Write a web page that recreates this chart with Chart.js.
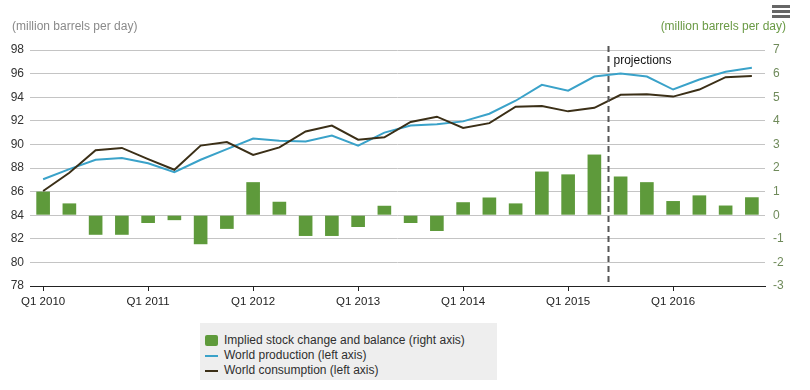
<!DOCTYPE html>
<html>
<head>
<meta charset="utf-8">
<script src="https://cdn.jsdelivr.net/npm/chart.js@4.4.0/dist/chart.umd.min.js"></script>
<style>
  body { margin: 0; background: #fff; font-family: "Liberation Sans", Arial, sans-serif; }
  #wrap { position: relative; width: 810px; height: 390px; }
  #oilChart { position: absolute; left: 0; top: 0; }
  .unit { position: absolute; font-size: 12px; top: 19px; }
  #unitLeft { left: 12px; color: #8a8a8a; }
  #unitRight { right: 24px; color: #6a9a45; }
  #menu { position: absolute; left: 772px; top: 5px; width: 18px; }
  #menu div { height: 3px; background: #666; margin-bottom: 2px; }
  #legend { position: absolute; left: 200px; top: 323px; width: 297px; height: 57px; background: #eeeeee; font-size: 12px; color: #2f2f2f; }
  .item { position: absolute; left: 5px; height: 14px; line-height: 14px; }
  .item span { display: inline-block; vertical-align: middle; margin-right: 6px; }
</style>
</head>
<body>
<div id="wrap">
  <canvas id="oilChart" width="810" height="390"></canvas>
  <div class="unit" id="unitLeft">(million barrels per day)</div>
  <div class="unit" id="unitRight">(million barrels per day)</div>
  <div id="menu"><div></div><div></div><div></div></div>
  <div id="legend">
    <div class="item" style="top:10px"><span style="width:13px;height:11px;background:#5e9a3b;border-radius:2px"></span>Implied stock change and balance (right axis)</div>
    <div class="item" style="top:25px"><span style="width:13px;height:2px;background:#3aa2c9"></span>World production (left axis)</div>
    <div class="item" style="top:40px"><span style="width:13px;height:2px;background:#3b2f17"></span>World consumption (left axis)</div>
  </div>
</div>
<script>
// DATA
let quarters = ['Q1 2010', 'Q2 2010', 'Q3 2010', 'Q4 2010',
  'Q1 2011', 'Q2 2011', 'Q3 2011', 'Q4 2011',
  'Q1 2012', 'Q2 2012', 'Q3 2012', 'Q4 2012',
  'Q1 2013', 'Q2 2013', 'Q3 2013', 'Q4 2013',
  'Q1 2014', 'Q2 2014', 'Q3 2014', 'Q4 2014',
  'Q1 2015', 'Q2 2015', 'Q3 2015', 'Q4 2015',
  'Q1 2016', 'Q2 2016', 'Q3 2016', 'Q4 2016'];

let stockChange = [1.0, 0.5, -0.83, -0.83, -0.33, -0.21, -1.23, -0.58,
  1.4, 0.57, -0.88, -0.88, -0.5, 0.4, -0.33, -0.67,
  0.55, 0.75, 0.5, 1.85, 1.73, 2.57, 1.64, 1.4,
  0.6, 0.84, 0.41, 0.76];

let production = [87.05, 87.9, 88.7, 88.85, 88.4, 87.65, 88.7, 89.6,
  90.5, 90.3, 90.25, 90.75, 89.9, 91.0, 91.6, 91.7,
  91.95, 92.6, 93.7, 95.05, 94.55, 95.75, 96.0, 95.75,
  94.65, 95.5, 96.15, 96.5];

let consumption = [86.05, 87.6, 89.5, 89.7, 88.75, 87.85, 89.9, 90.2,
  89.1, 89.75, 91.1, 91.6, 90.4, 90.6, 91.9, 92.35,
  91.4, 91.8, 93.2, 93.25, 92.8, 93.1, 94.2, 94.25,
  94.05, 94.65, 95.7, 95.8];

let projectionStart = 22; // Q3 2015
let projectionText = 'projections';

Chart.defaults.font.family = '"Liberation Sans", Arial, sans-serif';
Chart.defaults.font.size = 12;

// dashed projections line
let projectionPlugin = {
  id: 'projections',
  afterDatasetsDraw(chart) {
    let ctx = chart.ctx;
    let x = chart.scales.x;
    let px = Math.round((x.getPixelForValue(projectionStart - 1) + x.getPixelForValue(projectionStart)) / 2) + 0.5;
    ctx.save();
    ctx.strokeStyle = '#555';
    ctx.lineWidth = 2;
    ctx.setLineDash([6, 4]);
    ctx.beginPath();
    ctx.moveTo(px, chart.chartArea.top - 4);
    ctx.lineTo(px, chart.chartArea.bottom);
    ctx.stroke();
    ctx.fillStyle = '#111';
    ctx.font = '12px "Liberation Sans", Arial, sans-serif';
    ctx.textBaseline = 'middle';
    ctx.fillText(projectionText, px + 5, chart.chartArea.top + 11);
    ctx.restore();
  }
};

let oilChart = document.getElementById('oilChart').getContext('2d');

let oilChartVar = new Chart(oilChart, {
  type: 'bar',
  data: {
    labels: quarters,
    datasets: [{
      type: 'line',
      label: 'World production (left axis)',
      data: production,
      yAxisID: 'y',
      borderColor: '#3aa2c9',
      borderWidth: 2,
      pointRadius: 0,
      tension: 0,
      order: 2
    }, {
      type: 'line',
      label: 'World consumption (left axis)',
      data: consumption,
      yAxisID: 'y',
      borderColor: '#3b2f17',
      borderWidth: 2,
      pointRadius: 0,
      tension: 0,
      order: 1
    }, {
      label: 'Implied stock change and balance (right axis)',
      data: stockChange,
      yAxisID: 'y1',
      backgroundColor: '#5e9a3b',
      categoryPercentage: 1,
      barPercentage: 0.52,
      order: 3
    }]
  },
  options: {
    responsive: false,
    animation: false,
    layout: {
      padding: { top: 50, bottom: 80, left: 0, right: 0 }
    },
    plugins: {
      legend: { display: false },
      tooltip: { enabled: false }
    },
    scales: {
      x: {
        offset: true,
        grid: {
          offset: false,
          drawOnChartArea: false,
          tickLength: 5,
          color: c => (c.index % 4 === 0 ? '#222' : 'rgba(0,0,0,0)')
        },
        border: { color: '#222', width: 1 },
        ticks: {
          autoSkip: false,
          maxRotation: 0,
          padding: 4,
          color: '#222',
          font: { size: 11.5 },
          callback: function (v, i) { return i % 4 === 0 ? quarters[i] : ''; }
        },
        afterFit: s => { s.height = 24; }
      },
      y: {
        position: 'left',
        min: 78,
        max: 98,
        grid: { color: '#c4c4c4', drawTicks: false },
        border: { display: false },
        ticks: { stepSize: 2, padding: 6, color: '#333' },
        afterFit: s => { s.width = 30; }
      },
      y1: {
        position: 'right',
        min: -3,
        max: 7,
        grid: { drawOnChartArea: false, drawTicks: false },
        border: { display: false },
        ticks: { stepSize: 1, padding: 8, color: '#6f8a5a' },
        afterFit: s => { s.width = 45; }
      }
    }
  },
  plugins: [projectionPlugin]
});

oilChartVar.render();
</script>
</body>
</html>
